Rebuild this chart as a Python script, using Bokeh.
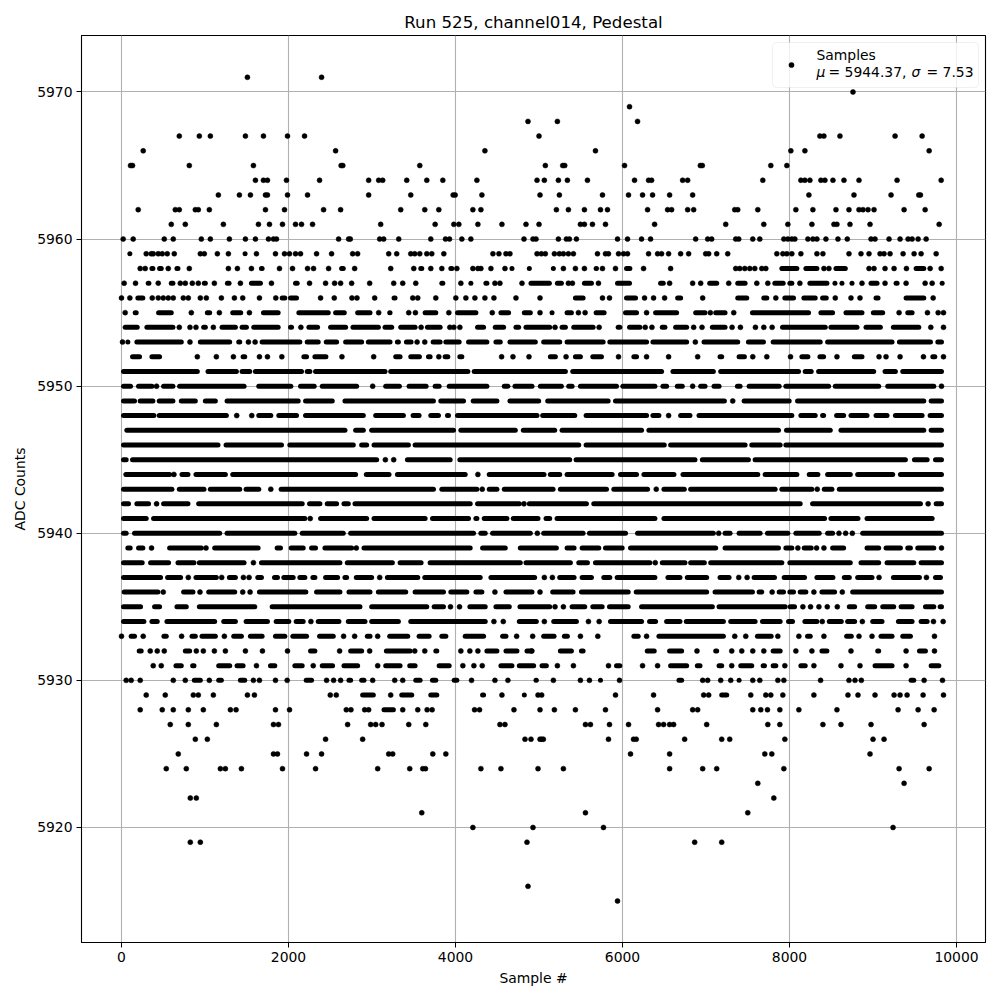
from bokeh.embed import file_html
from bokeh.resources import INLINE
from bokeh.plotting import figure
from bokeh.models import BoxAnnotation, FixedTicker, Label, Legend, LegendItem

# Samples per ADC level. An int is one visible dot.
# A tuple (a, b) is a stretch where dots overlap so much that single samples cannot be told apart.
L5971 = [1508, 2396]
L5970 = [8760]
L5969 = [6084]
L5968 = [4868, 5220, 6180]
L5967 = [692, 932, 1064, 1484, 1700, 1988, 2192, 5000, 8364, 8412, 8604, 9264, 9588]
L5966 = [260, 2564, 4352, 5676, 8016, 8184, 9672]
L5965 = [108, 132, 812, 1580, 2630, 2650, 3572, 5076, 5284, 5308, 6024, 6932, 6956, 7776, 7968]
L5964 = [1604, 1700, 1748, 1976, 2372, 2960, 3080, 3128, 3416, 3656, 3848, 4256, 4976, 5064, 5232, 5340, 5580, 6144, 6312, 6348, 6720, 6780, 7680, 8136, 8184, 8244, 8376, 8424, 8520, 8652, 8832, 9288, 9816]
L5963 = [1160, 1412, 1544, 1724, 1748, 1988, 2228, 2960, 3464, 3972, 3996, 4316, 5012, 5244, 5760, 6072, 6240, 6360, 6564, 6840, 8232, 8772, 9216, 9548, 9568]
L5962 = [200, 644, 692, 884, 920, 1052, 1724, 1952, 2420, 2624, 3344, 3632, 3800, 4208, 4304, 5208, 5352, 5544, 5736, 5820, 6300, 6540, 6588, 6780, 6852, 7344, 7380, 7620, 8076, 8280, 8556, 8712, 8832, 8880, 8940, 9012, 9372, 9624]
L5961 = [596, 764, 1220, 1640, 1772, 1928, 2084, 2156, 2288, 3104, 3756, 3980, 4040, 4268, 4556, 4844, 5000, 5496, 5544, 5640, 5796, 6384, 7236, 7692, 7980, 8268, 8532, 8568, 8724, 8964, 9792]
L5960 = [20, 140, 512, 620, 956, 1064, 1292, 1484, 1604, 1760, 1820, 1856, 2600, 2720, 2740, 3092, 3140, 3320, 3704, 3880, 3928, 4076, 4184, 4820, 4928, 4964, 5232, 5328, 5364, 5448, 5940, 6060, 6228, 6336, 6876, 7020, 7068, 7356, 7392, 7560, 7644, 7932, 7980, 8028, 8064, 8220, 8280, 8328, 8436, 8580, 8692, 8976, 9024, 9192, 9324, 9420, 9468, 9540, 9636]
L5959 = [(76, 124), 296, 356, 380, 440, 488, 548, 632, 944, 992, 1148, 1280, (1456, 1484), 1616, 1844, 1952, 2012, 2084, 2144, 2336, 2516, 2768, 2828, 3200, 3296, 3464, 3512, 3572, 3656, 3716, 3860, 4448, 4520, 4604, 4652, 4976, 5028, 5076, 5184, 5244, 5292, 5352, 5412, 5700, 5796, 5832, 5952, 6012, 6060, 6312, 6420, 6468, 6552, 6696, 6792, 6996, 7032, 7128, 7260, 7848, 7920, 7968, 8028, 8136, 8328, 8400, 8712, 8856, 8952, 9084, 9132, 9204, 9360, 9492, 9576, 9756]
L5958 = [224, 284, (340, 400), (432, 500), 560, (640, 700), 812, 1280, 1388, 1556, (1652, 1708), 1892, 2048, 2228, 2300, 2480, (2612, 2680), 2792, 3224, 3500, (3560, 3620), 3704, 3836, (3920, 3980), 4016, 4208, 4268, 4304, 4424, 4592, (4652, 4700), (4860, 4900), (5148, 5196), 5292, 5436, 5544, (5660, 5712), 5760, 5916, (6024, 6112), 6252, 6576, 7356, 7404, 7464, 7524, 7584, 7668, 7716, (7884, 8112), (8172, 8352), 8412, 8472, (8532, 8692), 8952, 9012, 9144, 9252, 9400, (9492, 9632), 9684, 9816]
L5957 = [32, 168, (296, 352), 440, (572, 640), 704, 764, 848, 920, (968, 1028), 1112, (1244, 1312), 1424, (1532, 1688), 1796, (2060, 2128), 2252, 2444, 2552, 2624, 2756, 2972, 3260, 3368, 3524, (3812, 3872), 4064, (4160, 4208), (4340, 4400), 4472, 4532, 4796, (4880, 5148), (5196, 5292), 5352, 5400, (5520, 5652), 5712, (5916, 6108), (6432, 6512), 6564, 6840, 6936, (7020, 7152), 7272, (7356, 7492), 7608, 7740, (7800, 7948), (7980, 8052), 8124, (8220, 8472), (8520, 8552), (8604, 8652), (8724, 8772), 8868, (8952, 9072), 9144, (9252, 9312), 9396, 9624, 9708, (9804, 9844)]
L5956 = [0, 100, (172, 280), 368, 440, 500, 560, 620, 740, 800, 944, 1016, 1196, 1352, 1452, 1652, 1848, (1900, 1980), (2000, 2120), 2384, 2548, 2760, 2820, 3032, (3240, 3300), 3488, 3548, 3764, 4004, 4124, 4232, 4352, 4460, 4724, 5012, (5412, 5552), 5760, 5844, (6024, 6180), 6264, 6372, 6504, (6636, 6720), 6960, (7356, 7512), (7668, 7752), 7836, (7920, 8072), (8148, 8332), (8372, 8464), 8548, 8736, 8844, (9012, 9084), (9372, 9632), 9720]
L5955 = [44, (140, 200), (420, 620), 836, (1004, 1080), 1172, (1308, 1452), 1532, (1676, 1900), (2100, 2500), (2540, 2692), (2804, 3000), 3080, (3188, 3240), 3440, 3520, (3612, 3788), 3920, (4000, 4268), 4440, (4520, 4660), (4800, 4920), 5012, (5132, 5180), (5312, 5412), 5472, 5552, (5660, 5804), (6012, 6192), 6288, (6372, 6672), (6852, 7012), 7052, (7092, 7252), 7332, (7532, 8252), (8352, 8540), (8652, 8892), (8980, 9140), 9312, (9392, 9492), 9652, 9780, 9844]
L5954 = [(20, 212), (280, 640), 692, 820, 892, (960, 1028), 1100, (1180, 1388), (1420, 1520), (1560, 1900), (2000, 2060), 2148, (2220, 2372), (2480, 2708), (2748, 3100), (3132, 3260), (3320, 3540), 3588, (3640, 3840), 3932, 3980, 4052, (4240, 4360), (4452, 4600), (4700, 4780), (4820, 5152), 5192, (5252, 5340), (5392, 5672), 5720, (5924, 5992), (6060, 6232), 6272, 6352, (6452, 6532), (6612, 6792), 6852, 6952, (7052, 7252), 7312, 7412, 7592, 7692, 7792, (7892, 8452), (8472, 8832), (8892, 9112), (9220, 9572), 9692, 9844]
L5953 = [12, (52, 92), (160, 740), 820, (920, 1320), (1380, 1440), 1520, 1600, (1660, 2160), (2200, 2380), (2428, 2600), (2660, 2900), (2932, 3240), (3280, 3340), (3388, 3492), 3540, 3632, (3708, 3840), (3860, 4068), (4132, 4400), (4460, 4560), (4628, 4980), (5032, 5272), (5312, 5792), (5824, 6312), (6340, 6792), 6872, (6952, 7404), (7484, 7712), (7780, 8392), (8432, 9252), (9292, 9712), (9752, 9844)]
L5952 = [(108, 240), (340, 480), 908, 1136, 1340, (1432, 1500), 1652, 1748, 1920, (2160, 2240), (2292, 2472), 2640, 3020, (3260, 3360), (3440, 3592), (3652, 3720), 3800, (3852, 3932), (4028, 4100), 4552, 4688, 4880, (5112, 5220), 5324, (5412, 5520), (5620, 5772), 5952, (6112, 6192), 6288, 6552, 6900, (7144, 7212), (7372, 7484), 7560, 7728, 8012, (8124, 8244), (8340, 8432), 8568, (8752, 8892), 9072, 9156, 9324, 9604, (9692, 9764), 9844]
L5951 = [(0, 932), (1012, 1400), (1420, 1560), (1580, 2180), (2200, 2280), (2300, 3180), (3200, 4172), (4200, 5340), (5380, 6492), (6580, 7112), (7152, 8132), (8164, 8284), (8324, 9032), (9120, 9292), (9332, 9844)]
L5950 = [(0, 132), (180, 388), 420, (480, 640), (672, 1492), (1620, 2052), (2120, 2332), (2380, 2840), 3008, (3140, 3352), (3420, 3672), (3732, 3828), (3900, 4400), (4560, 4652), (4688, 4940), (4992, 5292), (5332, 5420), (5472, 5952), (5980, 6412), (6460, 6552), (6632, 6740), 6840, (6912, 7012), (7072, 7180), (7352, 7432), (7492, 7900), (7932, 8492), (8524, 9092), (9152, 9752), 9820]
L5949 = [(0, 180), (200, 400), (428, 640), (692, 908), (980, 1148), (1240, 2140), (2180, 2548), (2652, 3760), (3800, 4120), (4188, 4520), (4628, 5020), (5080, 5852), (5892, 7244), 7320, (7432, 8020), (8072, 9632), (9672, 9844)]
L5948 = [(0, 412), (428, 1280), 1380, 1560, (1620, 1812), (1860, 2120), (2180, 2920), (3020, 3400), (3468, 3588), (3680, 3820), (3880, 3940), (4000, 5000), (5020, 5452), (5540, 6312), (6340, 6460), 6552, (6672, 6832), (6892, 8052), (8112, 8332), (8372, 8432), (8540, 8672), (8712, 8952), (9012, 9192), (9244, 9612), (9660, 9844)]
L5947 = [(40, 2700), (2780, 2920), (2972, 4000), (4040, 4740), (4788, 5212), (5252, 6252), (6292, 7892), (7940, 8512), (8592, 9632), (9672, 9844)]
L5946 = [(0, 1180), (1228, 1940), (1992, 2800), (2852, 2960), (3000, 3460), (3492, 5500), (5540, 6524), (6552, 7492), (7524, 7912), (7932, 9844)]
L5945 = [(0, 80), (108, 3080), 3160, 3260, (3400, 3960), (4028, 5392), (5420, 6892), (6932, 7532), (7564, 9412), (9472, 9672), (9724, 9844)]
L5944 = [(28, 600), 628, (700, 820), (868, 1268), (1308, 2828), (2908, 3228), (3280, 4140), 4268, (4380, 5084), (5112, 5272), (5312, 5900), (5952, 6192), (6232, 6640), (6700, 7644), (7684, 8112), (8212, 8364), (8432, 8752), (8792, 9260), (9304, 9844)]
L5943 = [(0, 628), (668, 1012), (1040, 1440), (1468, 1668), 1788, (1888, 3760), (3812, 4280), 4320, (4380, 4520), (4560, 5192), (5232, 5832), (5872, 6324), 6404, (6472, 6764), (6792, 7852), (7884, 8292), 8332, (8392, 8532), (8572, 9844)]
L5942 = [(0, 108), (160, 348), 420, (480, 820), (900, 2188), (2228, 2400), (2440, 2600), (2640, 2740), (2772, 4200), (4240, 4788), 4820, (4860, 5592), (5632, 8152), (8252, 9592), 9660, (9732, 9844)]
L5941 = [(0, 320), (360, 2220), 2260, (2360, 2960), (3000, 3660), (3700, 4180), (4220, 4280), (4320, 4640), (4668, 5012), (5060, 5152), (5192, 6412), (6472, 8444), (8472, 8844), (8904, 9732)]
L5940 = [(0, 80), (132, 1200), (1240, 2100), (2140, 2680), (2720, 4240), (4280, 4380), (4420, 4920), 4980, (5032, 5552), (5580, 6060), (6156, 7112), 7152, (7204, 7312), (7372, 7672), (7712, 8004), (8052, 8380), (8432, 8540), 8592, 8672, 8752, (8852, 9844)]
L5939 = [(52, 128), (180, 280), 360, (552, 980), 1012, (1092, 1660), (1840, 1928), (2008, 2200), (2252, 2348), (2412, 2780), 2812, (2880, 4200), (4300, 4620), (4752, 5232), (5312, 5444), (5492, 5740), (5772, 6020), (6072, 7140), (7204, 7892), (7932, 8052), 8100, (8152, 8284), 8324, 8412, (8492, 8672), (8904, 9092), (9132, 9352), (9392, 9472), (9512, 9752), 9820]
L5938 = [(0, 272), (324, 588), (652, 892), (908, 1492), 1580, (1652, 2640), (2680, 3268), (3312, 3612), (3672, 4800), (4820, 5400), (5452, 5604), (5652, 6352), 6392, (6452, 6772), (6792, 7004), (7032, 7932), (7980, 8752), (8832, 9092), (9144, 9512), (9552, 9844)]
L5937 = [(0, 492), (528, 732), 800, (868, 1160), 1200, (1268, 1388), 1460, 1528, (1608, 1700), (1808, 1892), (1920, 2080), (2112, 2220), (2268, 2340), (2420, 2612), (2652, 2720), (2788, 3020), 3092, (3160, 3572), (3608, 4320), (4400, 4972), 5064, 5160, (5224, 5444), (5492, 5652), (5752, 5872), (5912, 6412), (6520, 6712), (6752, 7032), (7144, 7300), 7392, 7492, (7552, 7844), (7912, 8204), (8304, 8544), (8632, 8740), (8792, 9012), 9072, (9220, 9580), 9640, (9724, 9832)]
L5936 = [(8, 460), 500, (720, 880), 940, (1020, 1380), 1452, 1540, (1628, 2232), (2312, 2640), (2700, 3000), (3052, 3428), (3492, 3880), (3920, 4160), (4220, 4340), 4472, (4580, 4940), 5012, (5140, 5432), (5484, 6092), (6140, 7032), (7084, 7580), (7612, 7692), 7792, (7852, 7952), (7980, 8072), (8104, 8220), 8292, (8364, 8564), 8632, (8732, 9844)]
L5935 = [(0, 252), (372, 480), (640, 800), (908, 1620), (1780, 2880), (2972, 3680), (3720, 3880), 3940, 4048, (4148, 4380), (4460, 4668), (4748, 5152), 5192, 5292, (5372, 5572), (5620, 5780), (5820, 6092), (6204, 7100), (7132, 7972), (7984, 8084), 8160, 8252, 8352, 8452, 8572, (8692, 8804), (8912, 9044), (9092, 9272), (9312, 9492), (9604, 9752), (9780, 9844)]
L5934 = [(0, 292), (340, 452), (520, 1140), (1200, 1388), (1468, 1772), (1828, 2028), (2068, 2200), 2268, (2332, 2628), (2692, 2940), (2972, 3340), (3440, 4380), 4460, 4572, (4740, 4992), 5064, (5152, 5472), 5592, 5720, (5832, 6252), (6300, 6420), (6504, 6712), (6740, 7232), (7272, 7612), (7652, 7912), (7964, 8060), (8160, 8352), 8392, (8452, 8644), (8672, 8804), 8872, (8972, 9132), (9280, 9492), (9552, 9672), 9724, 9840]
L5933 = [0, (92, 180), 260, (484, 560), 720, (820, 908), (940, 1148), 1232, (1320, 1460), (1520, 1708), (1820, 1980), (2028, 2240), (2348, 2560), 2660, 2792, (2920, 3000), 3068, (3188, 3452), (3540, 3708), (3812, 3908), (4092, 4360), (4540, 4628), 4732, 4924, (5032, 5204), (5280, 5364), 5496, 5704, (6112, 6212), 6288, (6412, 7232), 7344, 7476, (7592, 7804), 7860, 8112, (8192, 8272), 8412, (8660, 8764), 8832, 8988, (9072, 9252), (9332, 9472), 9736]
L5932 = [(188, 260), 344, 428, 512, (740, 840), 896, 980, 1112, 1244, 1484, 1688, 1988, (2240, 2340), 2612, (2720, 2900), 2972, (3148, 3480), 3512, 3632, (3740, 3800), 4064, 4172, 4268, (4352, 4520), (4580, 4760), (4832, 4940), 4912, (5232, 5412), (5484, 5552), (6272, 6404), (6540, 6732), 6892, (7092, 7152), 7308, 7428, 7560, 7692, (7780, 7912), 8076, 8268, (8364, 8472), 8736, (9032, 9092), 9396, (9532, 9652), 9736]
L5931 = [380, 476, (628, 740), (828, 892), (1140, 1320), (1360, 1480), 1616, (1760, 1860), (2052, 2188), 2296, (2380, 2552), (2640, 2852), 3068, (3140, 3360), (3428, 3540), (3780, 3948), 4088, 4220, 4320, (4520, 4700), (4740, 4960), (5012, 5112), 5220, 5412, 5832, (5904, 5992), 6240, 6420, (6552, 6792), (6872, 6952), (7132, 7212), 7308, (7392, 7572), (7660, 7724), (7780, 7860), 7944, (8112, 8212), 8292, 8616, 8844, (9000, 9252), 9396, (9672, 9812)]
L5930 = [56, 116, 224, 620, 764, (848, 968), 1052, (1140, 1220), (1400, 1500), 1580, 1652, 1844, 1984, (2188, 2300), 2456, 2540, 2624, (2700, 2768), (2852, 2928), 3008, 3272, 3368, (3500, 3600), (3700, 3788), (3960, 4040), 4192, 4472, 4628, (4940, 4992), 5172, 5496, 5604, (5712, 5752), 5964, (6652, 6732), 6960, 7020, 7176, 7296, (7372, 7420), 7560, 7644, 7860, 7932, 8372, 8712, 8784, 8860, (9432, 9512), 9612, 9832]
L5929 = [296, 524, 860, 920, 1100, 1508, 1592, 2500, 2572, (2864, 3040), 3224, (3332, 3500), (3680, 3800), (4300, 4360), 4556, (4800, 4848), 4988, 5032, 5916, 6372, 6972, 7032, (7164, 7272), 7536, 7716, 7776, 7920, 8292, 8700, 8820, 9024, 9252, 9324, 9408, 9600, 9844]
L5928 = [224, 488, 620, 800, 980, 1304, 1372, 1844, 2012, 2692, 2748, 2912, 2960, (3120, 3280), 3368, 3548, 3660, 3720, 4228, 4288, 4700, 5012, 5184, 5436, 5796, 6420, 6840, 6900, 7560, 7656, 7736, 7884, 8112, 8568, 9300, 9540, 9732]
L5927 = [584, 800, 1136, 1820, 1880, 2708, 2984, 3044, 3120, 3440, 3644, 4532, 4592, 5556, 5616, 5844, 6072, 6432, 6492, 6564, 6612, 7008, 7740, 7884, 8400, 8616, 8976, 9612]
L5926 = [884, 1028, 2444, 2888, 4832, 4904, 5012, 5032, 5052, 5832, 6132, 6164, 6744, 7188, 7284, 7944, 9000, 9132]
L5925 = [680, 1820, 1868, 2216, 2396, 3200, 3248, 3728, 3884, 6096, 6564, 7704, 7788, 8964]
L5924 = [536, 776, 1184, 1244, 1436, 1928, 2324, 3068, 3452, 3608, 3640, 4304, 4544, 4988, 5292, 6564, 6960, 7128, 7932, 9312, 9672]
L5923 = [7620, 9372]
L5922 = [824, 896, 7812]
L5921 = [3596, 5556, 7500]
L5920 = [4208, 4928, 5772, 9240]
L5919 = [824, 944, 4856, 6864, 7188]
L5916 = [4868]
L5915 = [5940]

LEVELS = {
    5971: L5971, 5970: L5970, 5969: L5969, 5968: L5968, 5967: L5967, 5966: L5966, 5965: L5965, 5964: L5964,
    5963: L5963, 5962: L5962, 5961: L5961, 5960: L5960, 5959: L5959, 5958: L5958, 5957: L5957, 5956: L5956,
    5955: L5955, 5954: L5954, 5953: L5953, 5952: L5952, 5951: L5951, 5950: L5950, 5949: L5949, 5948: L5948,
    5947: L5947, 5946: L5946, 5945: L5945, 5944: L5944, 5943: L5943, 5942: L5942, 5941: L5941, 5940: L5940,
    5939: L5939, 5938: L5938, 5937: L5937, 5936: L5936, 5935: L5935, 5934: L5934, 5933: L5933, 5932: L5932,
    5931: L5931, 5930: L5930, 5929: L5929, 5928: L5928, 5927: L5927, 5926: L5926, 5925: L5925, 5924: L5924,
    5923: L5923, 5922: L5922, 5921: L5921, 5920: L5920, 5919: L5919, 5916: L5916, 5915: L5915,
}
X_TICKS = [0, 2000, 4000, 6000, 8000, 10000]
Y_TICKS = [5920, 5930, 5940, 5950, 5960, 5970]
TITLE = "Run 525, channel014, Pedestal"

xs, ys, x0, x1, y0 = [], [], [], [], []
for level, items in LEVELS.items():
    for it in items:
        if isinstance(it, tuple):
            # stretch ends were read at the outer edge of the last dots
            x0.append(it[0] + 24)
            x1.append(max(it[0] + 24, it[1] - 24))
            y0.append(level)
        else:
            xs.append(it)
            ys.append(level)

p = figure(width=1000, height=1000, output_backend="svg", toolbar_location=None,
           x_range=(-479, 10347), y_range=(5912.18, 5973.84),
           min_border_left=81, min_border_right=15, min_border_top=35, min_border_bottom=58,
           x_axis_label="Sample #", y_axis_label="ADC Counts")
p.title.text = TITLE
p.title.align = "center"
p.title.text_font = "DejaVu Sans"
p.title.text_font_size = "16.67px"
p.title.text_font_style = "normal"
p.title.text_color = "black"
p.title.standoff = 7

p.xaxis.ticker = FixedTicker(ticks=X_TICKS)
p.yaxis.ticker = FixedTicker(ticks=Y_TICKS)
p.xaxis.major_label_orientation = "horizontal"
for ax in (p.xaxis[0], p.yaxis[0]):
    ax.major_label_text_font = "DejaVu Sans"
    ax.major_label_text_font_size = "13.9px"
    ax.major_label_text_color = "black"
    ax.axis_label_text_font = "DejaVu Sans"
    ax.axis_label_text_font_size = "13.9px"
    ax.axis_label_text_font_style = "normal"
    ax.axis_label_text_color = "black"
    ax.axis_line_color = "black"
    ax.major_tick_line_color = "black"
    ax.major_tick_in = 0
    ax.major_tick_out = 5
    ax.minor_tick_line_color = None
    ax.major_label_standoff = 4
    ax.axis_label_standoff = 5
p.yaxis[0].major_label_orientation = "horizontal"
p.yaxis[0].axis_label_standoff = 6
p.xgrid.grid_line_color = "#b0b0b0"
p.ygrid.grid_line_color = "#b0b0b0"
p.xgrid.grid_line_width = 1.1
p.ygrid.grid_line_width = 1.1
p.outline_line_color = "black"
p.outline_line_width = 1.1

p.segment(x0, y0, x1, y0, line_color="black", line_width=5, line_cap="round")
dots = p.scatter(xs, ys, size=5, color="black", line_width=0.5)

# Screen units count from the frame's lower left corner (frame: left 81, bottom 942).
p.add_layout(BoxAnnotation(left=772 - 81, right=978 - 81, top=942 - 42, bottom=942 - 87,
                           left_units="screen", right_units="screen", top_units="screen", bottom_units="screen",
                           fill_color="white", fill_alpha=0.8, line_color="#cccccc", line_width=1,
                           border_radius=4, editable=False))

legend = Legend(items=[LegendItem(label=" ", renderers=[dots])], location="top_right",
                label_text_font="DejaVu Sans", label_text_font_size="13.9px", label_text_color="black",
                label_height=33, border_line_color=None, background_fill_alpha=0, margin=13, padding=6,
                glyph_width=28, glyph_height=13, label_standoff=10, label_width=157)
p.add_layout(legend)

# legend texts: mu and sigma are set in italics as in the original.
for txt, px, py, style in [("Samples", 816, 54, "normal"), ("μ", 816, 71, "italic"), ("= 5944.37,", 828, 71, "normal"),
                           ("σ", 911, 71, "italic"), ("= 7.53", 926, 71, "normal")]:
    lab = Label(x=px - 81, y=942 - py, x_units="screen", y_units="screen", text=txt,
                text_font="DejaVu Sans", text_font_size="13.9px", text_font_style=style,
                text_color="black", text_baseline="middle", text_align="left")
    lab.level = "overlay"
    p.add_layout(lab)

open("out.html", "w").write(file_html(p, INLINE))
